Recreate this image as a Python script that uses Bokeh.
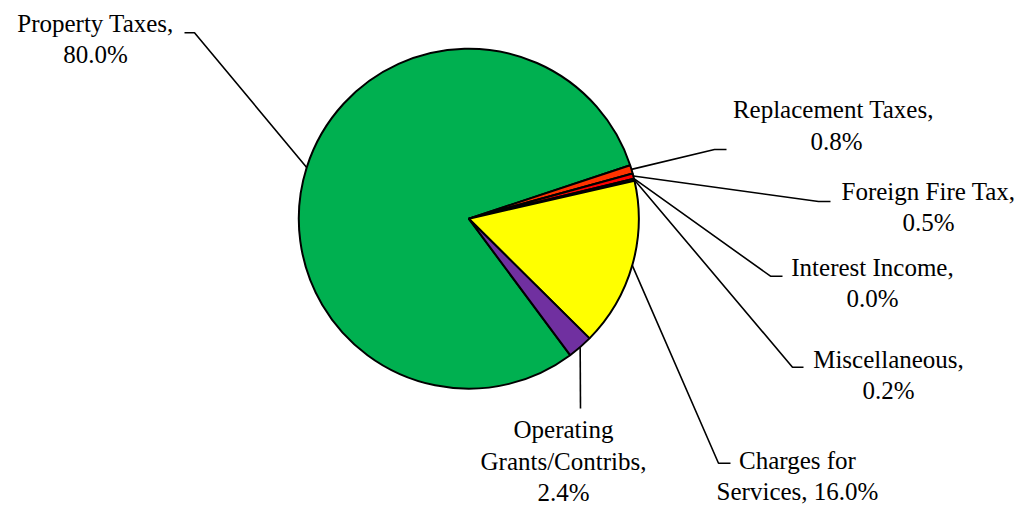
import math
from bokeh.plotting import figure
from bokeh.models import ColumnDataSource, Range1d
from bokeh.core.properties import value
from bokeh.embed import file_html
from bokeh.resources import INLINE

# ---- data ----
categories = ["Property Taxes", "Replacement Taxes", "Foreign Fire Tax",
              "Interest Income", "Miscellaneous", "Charges for Services",
              "Operating Grants/Contribs"]
shares = [80.0, 0.8, 0.5, 0.0, 0.2, 16.0, 2.4]
colors = ["#00B050", "#FF3300", "#FF0000", "#1F3F8F", "#333399", "#FFFF00", "#7030A0"]
label_texts = [
    "Property Taxes,\n80.0%",
    "Replacement  Taxes,\n0.8%",
    "Foreign Fire Tax,\n0.5%",
    "Interest Income,\n0.0%",
    "Miscellaneous,\n0.2%",
    "Charges for\nServices, 16.0%",
    "Operating\nGrants/Contribs,\n2.4%",
]

# ---- layout (screen pixels in the 1025x506 window) ----
W, H = 1025, 506
def X(sx): return sx
def Y(sy): return H - sy

CX, CY, R = X(468.3), Y(218.2), 170
START_DEG = -53.4  # slices run clockwise from here
TEXT_SHIFT = -9.0  # renderer baseline correction
# label center x, first baseline y (screen)
label_pos = [(95, 31.7), (836, 118.3), (928, 200), (872, 275.7),
             (888, 367.7), (797, 469), (563, 438.3)]
# leader: elbow point, end point of short horizontal (screen)
leader = [((194, 32.3), (184, 32.3)),
          ((714, 149), (726, 149)),
          ((818, 201), (830, 201)),
          ((770, 275.7), (782, 275.7)),
          ((792, 366.7), (803, 366.7)),
          ((718, 462.7), (730, 462.7)),
          ((580, 408), (580, 408))]
LINE_GAP = 31.3

p = figure(width=W, height=H, output_backend="svg", toolbar_location=None,
           x_range=Range1d(0, W), y_range=Range1d(0, H), min_border=0,
           match_aspect=False)
p.axis.visible = False
p.grid.visible = False
p.outline_line_color = None

total = sum(shares)
starts, ends, cols, mids = [], [], [], []
cum = 0.0
for s, c in zip(shares, colors):
    a_hi = START_DEG - cum / total * 360
    cum += s
    a_lo = START_DEG - cum / total * 360
    mids.append(math.radians((a_hi + a_lo) / 2))
    if s > 0:
        starts.append(math.radians(a_lo))
        ends.append(math.radians(a_hi))
        cols.append(c)

src = ColumnDataSource(dict(start=starts, end=ends, color=cols))
p.wedge(x=CX, y=CY, radius=R, start_angle="start", end_angle="end",
        fill_color="color", line_color="black", line_width=2, source=src)

xs, ys = [], []
for m, (elbow, end) in zip(mids, leader):
    x0 = CX + R * math.cos(m)
    y0 = CY + R * math.sin(m)
    xs.append([x0, X(elbow[0]), X(end[0])])
    ys.append([y0, Y(elbow[1]), Y(end[1])])
p.multi_line(xs=xs, ys=ys, line_color="black", line_width=1.6)

tx, ty, tt = [], [], []
for txt, (lx, ly) in zip(label_texts, label_pos):
    for i, line in enumerate(txt.split("\n")):
        tx.append(X(lx))
        ty.append(Y(ly + i * LINE_GAP + TEXT_SHIFT))
        tt.append(line)
p.text(x=tx, y=ty, text=tt, text_font=value("Liberation Serif"),
       text_font_size=value("25px"), text_align="center",
       text_baseline="alphabetic", text_color="black")

open("out.html", "w").write(file_html(p, INLINE))
